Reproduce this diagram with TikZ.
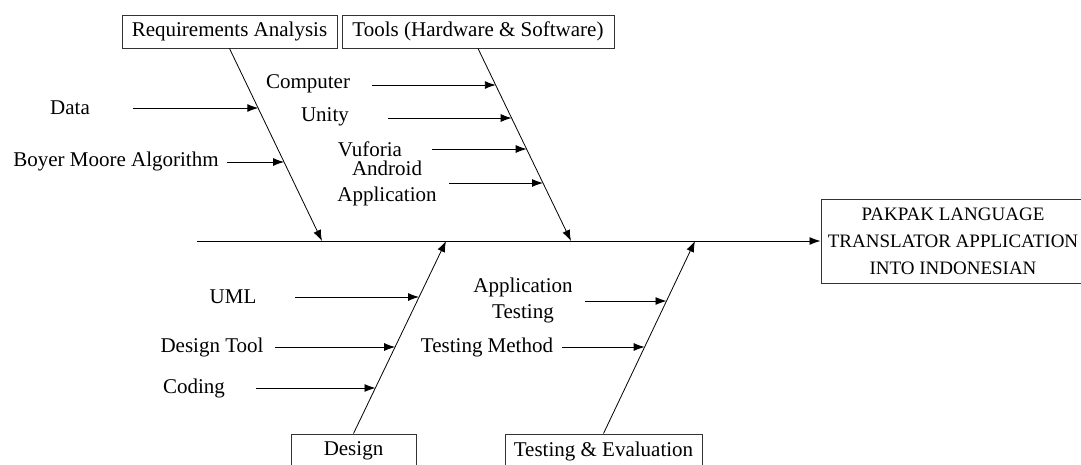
\documentclass[tikz,border=0pt]{standalone}
\usepackage{fontspec}
\setmainfont{Liberation Serif}
\usetikzlibrary{positioning,calc}
\usetikzlibrary{arrows.meta}

\tikzset{
  every node/.style={font=\fontsize{21}{26}\selectfont, inner sep=0pt},
  catbox/.style={draw=black!80, line width=1pt, minimum height=33pt},
  bone/.style={line width=0.8pt, -{Latex[length=11pt,width=8pt]}},
  cause/.style={line width=0.9pt, -{Latex[length=11pt,width=8pt]}}
}

\begin{document}
\begin{tikzpicture}[x=1pt,y=-1pt]
  \useasboundingbox (0,0) rectangle (1081,464);

  % Category boxes
  \node[catbox, minimum width=215pt] (reqbox) at (229.5,31.5) {Requirements Analysis};
  \node[catbox, minimum width=272pt] (toolbox) at (478,31.5) {Tools (Hardware \& Software)};
  \node[catbox, minimum width=125pt, minimum height=34pt] (designbox) at (353.5,451) {Design};
  \node[catbox, minimum width=197pt, minimum height=34pt] (testbox) at (603.5,451) {Testing \& Evaluation};

  % Effect box
  \node[catbox, minimum width=264pt, minimum height=84pt, align=center,
        font=\fontsize{19}{27}\selectfont] (goalbox) at (953,241)
    {PAKPAK LANGUAGE\\TRANSLATOR APPLICATION\\INTO INDONESIAN};

  % Spine
  \coordinate (spinestart) at (197,241);
  \draw[cause] (spinestart) -- (goalbox.west);

  % Bones
  \coordinate (reqend) at (322,241);
  \coordinate (toolend) at (571,241);
  \coordinate (designend) at (446,241);
  \coordinate (testend) at (695,241);
  \draw[bone] (reqbox.south) -- (reqend);
  \draw[bone] (toolbox.south) -- (toolend);
  \draw[bone] (designbox.north) -- (designend);
  \draw[bone] (testbox.north) -- (testend);

  % Labels
  \node (data) at (70,108) {Data};
  \node (boyer) at (116,161) {Boyer Moore Algorithm};
  \node (computer) at (308,84) {Computer};
  \node (unity) at (325,117) {Unity};
  \node (vuforia) at (370,149) {Vuforia};
  \node[align=center] (android) at (387,183) {Android\\Application};
  \node (uml) at (233,297) {UML};
  \node (designtool) at (212,347) {Design Tool};
  \node (coding) at (194,388) {Coding};
  \node[align=center] (apptest) at (523,300) {Application\\Testing};
  \node (testmethod) at (487,347) {Testing Method};

  % Cause arrows
  \coordinate (data-s) at (133,108);     \coordinate (data-e) at (258.3,108);
  \coordinate (boyer-s) at (227,162);    \coordinate (boyer-e) at (284.1,162);
  \coordinate (computer-s) at (372,85);  \coordinate (computer-e) at (495.8,85);
  \coordinate (unity-s) at (388,118);    \coordinate (unity-e) at (511.7,118);
  \coordinate (vuforia-s) at (432,149);  \coordinate (vuforia-e) at (526.7,149);
  \coordinate (android-s) at (449,183);  \coordinate (android-e) at (543,183);
  \coordinate (uml-s) at (295,297);      \coordinate (uml-e) at (419.1,297);
  \coordinate (designtool-s) at (275,347); \coordinate (designtool-e) at (395.2,347);
  \coordinate (coding-s) at (256,388);   \coordinate (coding-e) at (375.5,388);
  \coordinate (apptest-s) at (585,301);  \coordinate (apptest-e) at (666.5,301);
  \coordinate (testmethod-s) at (562,347); \coordinate (testmethod-e) at (644.7,347);
  \foreach \c in {data,boyer,computer,unity,vuforia,android,uml,designtool,coding,apptest,testmethod}
    \draw[cause] (\c-s) -- (\c-e);
\end{tikzpicture}
\end{document}
